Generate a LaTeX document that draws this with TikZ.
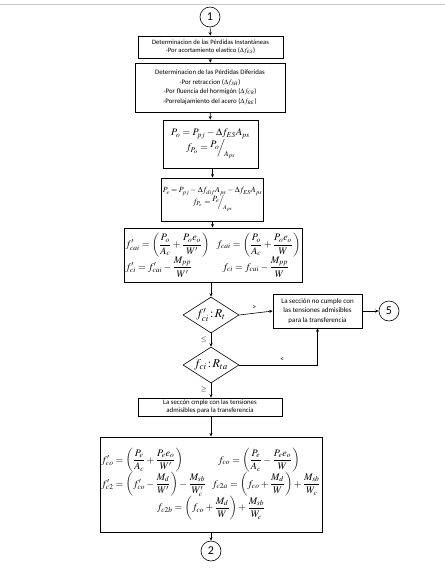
\documentclass[tikz,border=0pt]{standalone}
\usepackage{fix-cm}
\usepackage{amsmath}
\usepackage{mathptmx}
\usepackage{fontspec}
\setmainfont{Carlito}
\usetikzlibrary{shapes.geometric,arrows.meta,positioning}
\tikzset{
  box/.style={draw, line width=0.6pt, align=center, inner sep=1pt, font=\fontsize{6.8}{9.6}\selectfont},
  eqbox/.style={draw, line width=0.9pt, align=center, inner sep=1.5pt},
  conn/.style={circle, draw, line width=0.6pt, minimum size=20pt, inner sep=0pt, font=\fontsize{12}{12}\selectfont},
  dec/.style={diamond, draw, line width=0.6pt, minimum width=56pt, minimum height=36pt, inner sep=0pt, aspect=1.6},
  arr/.style={-{Stealth[length=3.5pt,width=3pt]}, line width=0.6pt},
  lab/.style={font=\fontsize{7.5}{7.5}\selectfont, inner sep=1pt}
}
\begin{document}
\begin{tikzpicture}[x=1pt,y=-1pt]
\useasboundingbox (0,0) rectangle (445,571);
\draw[gray!40, line width=0.6pt] (0,4) -- (445,4);

\node[conn] (c1) at (210,17) {1};

\node[box, minimum width=145pt, minimum height=22pt, font=\fontsize{6.6}{8.6}\selectfont] (b1) at (210.5,47)
  {Determinacion de las Pérdidas Instantáneas\\-Por acortamiento elastico ($\Delta f_{ES}$)};

\node[box, minimum width=150pt, minimum height=49pt] (b2) at (210,87.5)
  {Determinacion de las Pérdidas Diferidas\\-Por retraccion ($\Delta f_{SH}$)\\-Por fluencia del hormigón ($\Delta f_{CR}$)\\-Porrelajamiento del acero ($\Delta f_{RE}$)};

\node[eqbox, minimum width=95pt, minimum height=48pt, font=\fontsize{10}{12}\selectfont] (b3) at (210.5,144)
  {$P_o = P_{pj} - \Delta f_{ES} A_{ps}$\\[-1pt]
   $f_{P_o} = \raisebox{3pt}{$P_o$}\!\!\Big/\!\raisebox{-6pt}{$\scriptstyle A_{ps}$}$};

\node[eqbox, minimum width=99pt, minimum height=43pt, font=\fontsize{8}{10}\selectfont] (b4) at (212.5,199.5)
  {\medmuskip=2.5mu\thickmuskip=3mu
   $P_e = P_{pj} - \Delta f_{dif} A_{ps} - \Delta f_{ES} A_{ps}$\\[-1pt]
   $f_{P_e} = \raisebox{3pt}{$P_e$}\!\!\Big/\!\raisebox{-5pt}{$\scriptstyle A_{ps}$}$};

\node[eqbox, minimum width=178pt, minimum height=54pt, inner sep=1pt, font=\fontsize{10}{11}\selectfont] (b5) at (213,255)
  {\begin{tabular}{@{}l@{\hspace{7pt}}l@{}}
   $f'_{cai} = \left(\dfrac{P_o}{A_c} + \dfrac{P_o e_o}{W'}\right)$ &
   $f_{cai} = \left(\dfrac{P_o}{A_c} + \dfrac{P_o e_o}{W}\right)$\\[0pt]
   $f'_{ci} = f'_{cai} - \dfrac{M_{pp}}{W'}$ &
   \hspace{6pt}$f_{ci} = f_{cai} - \dfrac{M_{pp}}{W}$
   \end{tabular}};

\node[dec, font=\fontsize{12}{12}\selectfont] (d1) at (211,315) {$f'_{ci}\!:\!R_t$};

\node[box, minimum width=89pt, minimum height=34pt, font=\fontsize{7}{9.6}\selectfont] (b6) at (317.5,311)
  {La sección no cumple con\\las tensiones admisibles\\para la transferencia};

\node[conn] (c5) at (389,311) {5};

\node[dec, font=\fontsize{12}{12}\selectfont] (d2) at (211,365) {$f_{ci}\!:\!R_{ta}$};

\node[box, minimum width=144pt, minimum height=18pt, font=\fontsize{6.8}{8.2}\selectfont] (b7) at (210,407)
  {La seccón cmple con las tensiones\\admisibles para la transferencia};

\node[eqbox, minimum width=196pt, minimum height=95pt, font=\fontsize{10}{11}\selectfont] (b8) at (211,484.5)
  {\begin{tabular}{@{}l@{\hspace{6pt}}l@{}}
   $f'_{co} = \left(\dfrac{P_e}{A_c} + \dfrac{P_e e_o}{W'}\right)$ &
   \hspace{6pt}$f_{co} = \left(\dfrac{P_e}{A_c} - \dfrac{P_e e_o}{W}\right)$\\[5pt]
   $f'_{c2} = \left(f'_{co} - \dfrac{M_d}{W'}\right) - \dfrac{M_{sb}}{W'_c}$ &
   $f_{c2a} = \left(f_{co} + \dfrac{M_d}{W}\right) + \dfrac{M_{sb}}{W_c}$\\[5pt]
   \multicolumn{2}{c}{$f_{c2b} = \left(f_{co} + \dfrac{M_d}{W}\right) + \dfrac{M_{sb}}{W_c}$}
   \end{tabular}};

\node[conn] (c2) at (211,551) {2};

\draw[arr] (c1) -- (b1);
\draw[arr] (b1) -- (b2);
\draw[arr] (b2) -- (b3);
\draw[arr] (b3.south -| b4.north) -- (b4.north);
\draw[arr] (b4) -- (b5.north -| b4.south);
\draw[arr] (b5.south -| d1.north) -- (d1.north);
\draw[arr] (d1.east) -- node[lab, above=2pt, pos=0.45] {>} (b6.west);
\draw[arr] (b6.east) -- (c5.west);
\draw[arr] (d1.south) -- node[lab, left=3pt] {$\leq$} (d2.north);
\draw[arr] (d2.east) -- node[lab, above=2pt, pos=0.55] {<} (d2.east -| b6.south) -- (b6.south);
\draw[arr] (d2.south) -- node[lab, left=3pt, pos=0.45] {$\geq$} (b7.north -| d2.south);
\draw[arr] (b7.south -| d2.south) -- (b8.north -| d2.south);
\draw[arr] (b8.south -| c2.north) -- (c2.north);
\end{tikzpicture}
\end{document}
